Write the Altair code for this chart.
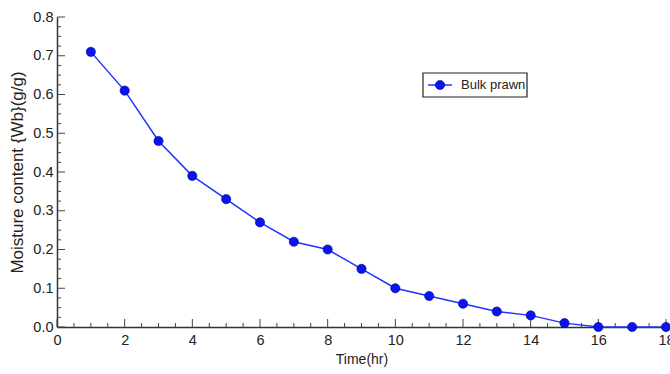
import altair as alt
import pandas as pd

time_hr = [1, 2, 3, 4, 5, 6, 7, 8, 9, 10, 11, 12, 13, 14, 15, 16, 17, 18]
moisture = [0.71, 0.61, 0.48, 0.39, 0.33, 0.27, 0.22, 0.20, 0.15, 0.10, 0.08, 0.06, 0.04, 0.03, 0.01, 0.0, 0.0, 0.0]
series_name = "Bulk prawn"

x_major = [0, 2, 4, 6, 8, 10, 12, 14, 16, 18]
x_minor = [v * 0.5 for v in range(0, 37) if v % 4 != 0]
y_major = [0.0, 0.1, 0.2, 0.3, 0.4, 0.5, 0.6, 0.7, 0.8]
y_minor = [round(v * 0.025, 3) for v in range(0, 33) if v % 4 != 0]

df = pd.DataFrame({"t": time_hr, "m": moisture})

W, H = 609, 310
FONT = "Liberation Sans"
BLUE = "#0a14f0"

xs = alt.Scale(domain=[0, 18], nice=False, zero=False)
ys = alt.Scale(domain=[0, 0.8], nice=False)

XAX = alt.Axis(
    title="Time(hr)", values=x_major, tickSize=0, labelPadding=6,
    labelFontSize=14.5, labelColor="#222", titleFontSize=14, titleColor="#222",
    titleFont=FONT, labelFont=FONT, titleFontWeight="normal", titlePadding=6,
    domainColor="#333", domainWidth=1.5, grid=False, labelFlush=False,
    labelOverlap=False)
YAX = alt.Axis(
    title="Moisture content {Wb}(g/g)", values=y_major, format=".1f", tickSize=0,
    labelPadding=4, labelFontSize=14.5, labelColor="#222", titleFontSize=17,
    titleColor="#222", titleFont=FONT, labelFont=FONT, titleFontWeight="normal",
    titlePadding=6, domainColor="#333", domainWidth=1.5, grid=False,
    labelOverlap=False, labelFlush=False)

base = alt.Chart(df)

line = base.mark_line(color="#2233ff", strokeWidth=1.5, clip=False).encode(
    x=alt.X("t:Q", scale=xs, axis=XAX, title="Time(hr)"),
    y=alt.Y("m:Q", scale=ys, axis=YAX, title="Moisture content {Wb}(g/g)"),
)
pts = base.mark_point(filled=True, size=85, color=BLUE, opacity=1, clip=False,
                      stroke="#00008b", strokeWidth=0.6).encode(
    x=alt.X("t:Q", scale=xs, axis=XAX, title="Time(hr)"),
    y=alt.Y("m:Q", scale=ys, axis=YAX, title="Moisture content {Wb}(g/g)"))

# inward ticks
xmaj = alt.Chart(pd.DataFrame({"t": x_major})).mark_rule(color="#444", strokeWidth=1).encode(
    x=alt.X("t:Q", scale=xs, axis=XAX, title="Time(hr)"), y=alt.value(H), y2=alt.value(H - 8))
xmin = alt.Chart(pd.DataFrame({"t": x_minor})).mark_rule(color="#444", strokeWidth=1).encode(
    x=alt.X("t:Q", scale=xs, axis=XAX, title="Time(hr)"), y=alt.value(H), y2=alt.value(H - 4))
ymaj = alt.Chart(pd.DataFrame({"m": y_major})).mark_rule(color="#444", strokeWidth=1).encode(
    y=alt.Y("m:Q", scale=ys, axis=YAX, title="Moisture content {Wb}(g/g)"), x=alt.value(0), x2=alt.value(8))
ymin = alt.Chart(pd.DataFrame({"m": y_minor})).mark_rule(color="#444", strokeWidth=1).encode(
    y=alt.Y("m:Q", scale=ys, axis=YAX, title="Moisture content {Wb}(g/g)"), x=alt.value(0), x2=alt.value(4))

# manual legend
lx0, lx1, ly0, ly1 = 366, 470, 56, 80
leg_box = alt.Chart(pd.DataFrame({"a": [0]})).mark_rect(
    fill="white", stroke="#222", strokeWidth=1.2).encode(
    x=alt.value(lx0), x2=alt.value(lx1), y=alt.value(ly0), y2=alt.value(ly1))
leg_line = alt.Chart(pd.DataFrame({"a": [0]})).mark_rule(color="#2233ff", strokeWidth=1.5).encode(
    x=alt.value(lx0 + 5), x2=alt.value(lx0 + 29), y=alt.value(68))
leg_pt = alt.Chart(pd.DataFrame({"a": [0]})).mark_point(
    filled=True, size=85, color=BLUE, opacity=1, stroke="#00008b", strokeWidth=0.6).encode(
    x=alt.value(lx0 + 17), y=alt.value(68))
leg_txt = alt.Chart(pd.DataFrame({"label": [series_name]})).mark_text(
    align="left", baseline="middle", font=FONT, fontSize=13, color="#222").encode(
    x=alt.value(lx0 + 38), y=alt.value(68), text="label:N")

chart = alt.layer(line, xmin, xmaj, ymin, ymaj, pts, leg_box, leg_line, leg_pt, leg_txt).properties(
    width=W, height=H,
    autosize=alt.AutoSizeParams(type="none"),
    padding={"left": 57, "top": 17, "right": 4, "bottom": 47},
    background="white",
).configure_view(stroke=None)

chart.save("out.html", embed_options={"renderer": "svg", "actions": False})
